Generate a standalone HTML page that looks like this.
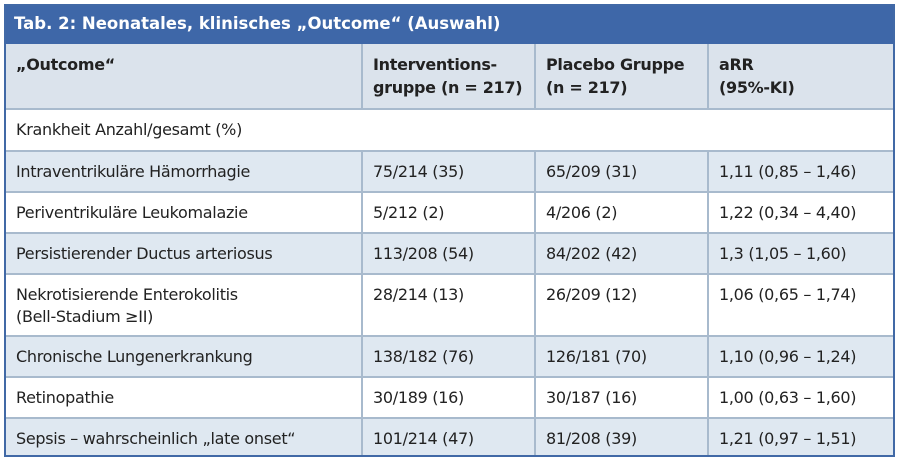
<!DOCTYPE html>
<html><head><meta charset="utf-8"><style>
body{margin:0;background:#fff;width:900px;height:460px;overflow:hidden;font-family:"DejaVu Sans","Liberation Sans",sans-serif;position:relative}
.frame{position:absolute;left:4px;top:4px;width:891px;height:453px;border:2px solid #4169a6;box-sizing:border-box}
.title{position:absolute;left:4px;top:4px;width:891px;height:40px;background:#3e67a8;color:#fff;font-weight:bold;font-size:16.5px;line-height:40px;padding-left:10px;box-sizing:border-box;white-space:nowrap}
.row{position:absolute;left:4px;width:891px;border-top:2px solid #a8bacd;box-sizing:border-box}
.b{background:#dfe8f1}
.c{position:absolute;top:0;font-size:16px;color:#222;white-space:nowrap;letter-spacing:-0.3px}
.v{position:absolute;top:44px;width:2px;height:413px;background:#a8bacd}
.h .c{font-weight:bold;line-height:23px;top:9px}
</style></head><body>
<div class="title">Tab. 2: Neonatales, klinisches „Outcome“ (Auswahl)</div>
<div class="row h" style="top:44px;height:64px;background:#dbe3ec;border-top:none">
<div class="c" style="left:12px">„Outcome“</div><div class="c" style="left:369px">Interventions-<br>gruppe (n = 217)</div><div class="c" style="left:542px">Placebo Gruppe<br>(n = 217)</div><div class="c" style="left:715px">aRR<br>(95%-KI)</div></div>
<div class="row" style="top:108px;height:42px"><div class="c" style="left:12px;line-height:40px">Krankheit Anzahl/gesamt (%)</div></div>
<div class="row b" style="top:150px;height:41px"><div class="c" style="left:12px;line-height:39px">Intraventrikuläre Hämorrhagie</div><div class="c" style="left:369px;line-height:39px">75/214 (35)</div><div class="c" style="left:542px;line-height:39px">65/209 (31)</div><div class="c" style="left:715px;line-height:39px">1,11 (0,85 – 1,46)</div></div>
<div class="row" style="top:191px;height:41px"><div class="c" style="left:12px;line-height:39px">Periventrikuläre Leukomalazie</div><div class="c" style="left:369px;line-height:39px">5/212 (2)</div><div class="c" style="left:542px;line-height:39px">4/206 (2)</div><div class="c" style="left:715px;line-height:39px">1,22 (0,34 – 4,40)</div></div>
<div class="row b" style="top:232px;height:41px"><div class="c" style="left:12px;line-height:39px">Persistierender Ductus arteriosus</div><div class="c" style="left:369px;line-height:39px">113/208 (54)</div><div class="c" style="left:542px;line-height:39px">84/202 (42)</div><div class="c" style="left:715px;line-height:39px">1,3 (1,05 – 1,60)</div></div>
<div class="row" style="top:273px;height:62px"><div class="c" style="left:12px;line-height:22px;top:9px">Nekrotisierende Enterokolitis<br>(Bell-Stadium ≥II)</div><div class="c" style="left:369px;line-height:22px;top:9px">28/214 (13)</div><div class="c" style="left:542px;line-height:22px;top:9px">26/209 (12)</div><div class="c" style="left:715px;line-height:22px;top:9px">1,06 (0,65 – 1,74)</div></div>
<div class="row b" style="top:335px;height:41px"><div class="c" style="left:12px;line-height:39px">Chronische Lungenerkrankung</div><div class="c" style="left:369px;line-height:39px">138/182 (76)</div><div class="c" style="left:542px;line-height:39px">126/181 (70)</div><div class="c" style="left:715px;line-height:39px">1,10 (0,96 – 1,24)</div></div>
<div class="row" style="top:376px;height:41px"><div class="c" style="left:12px;line-height:39px">Retinopathie</div><div class="c" style="left:369px;line-height:39px">30/189 (16)</div><div class="c" style="left:542px;line-height:39px">30/187 (16)</div><div class="c" style="left:715px;line-height:39px">1,00 (0,63 – 1,60)</div></div>
<div class="row b" style="top:417px;height:40px"><div class="c" style="left:12px;line-height:39px">Sepsis – wahrscheinlich „late onset“</div><div class="c" style="left:369px;line-height:39px">101/214 (47)</div><div class="c" style="left:542px;line-height:39px">81/208 (39)</div><div class="c" style="left:715px;line-height:39px">1,21 (0,97 – 1,51)</div></div>
<div class="v" style="left:361px;top:44px;height:64px"></div>
<div class="v" style="left:534px;top:44px;height:64px"></div>
<div class="v" style="left:707px;top:44px;height:64px"></div>
<div class="v" style="left:361px;top:150px;height:307px"></div>
<div class="v" style="left:534px;top:150px;height:307px"></div>
<div class="v" style="left:707px;top:150px;height:307px"></div>
<div class="frame"></div>
</body></html>
